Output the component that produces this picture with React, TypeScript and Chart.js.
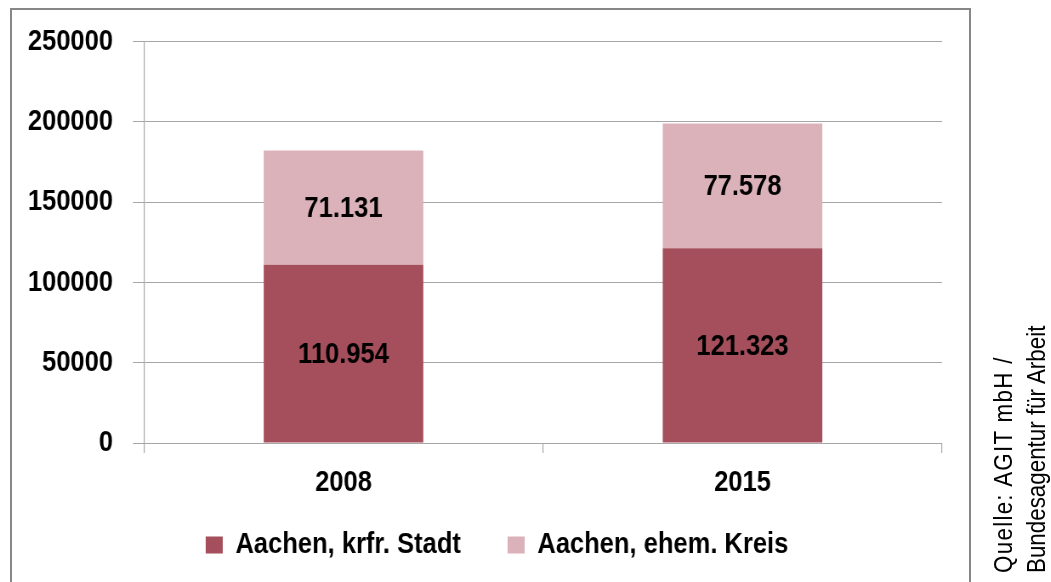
import React, { useEffect, useRef } from "react";
import { Chart, registerables } from "chart.js";

Chart.register(...registerables);

const categories = ["2008", "2015"];
const stadtValues = [110954, 121323];
const kreisValues = [71131, 77578];
const seriesNames = ["Aachen, krfr. Stadt", "Aachen, ehem. Kreis"];
const yTicks = [0, 50000, 100000, 150000, 200000, 250000];
const sourceLines = ["Quelle: AGIT mbH /", "Bundesagentur für Arbeit"];

const FONT = "'Liberation Sans', Arial, sans-serif";
const DARK = "#A54F5D";
const LIGHT = "#DBB2BA";
const GRID = "#A6A6A6";

// horizontal compression to mimic a narrow typeface
const DISPLAY_W = 988;
const INTERNAL_W = 1162;
const S = DISPLAY_W / INTERNAL_W;
const H = 582;

const fmt = (v: number) => String(v).replace(/\B(?=(\d{3})+(?!\d))/g, ".");

const dataLabelPlugin = {
  id: "dataLabels",
  afterDatasetsDraw(chart: any) {
    const ctx = chart.ctx;
    ctx.save();
    ctx.font = `bold 30px ${FONT}`;
    ctx.fillStyle = "#000";
    ctx.textAlign = "center";
    ctx.textBaseline = "middle";
    chart.data.datasets.forEach((ds: any, di: number) => {
      const meta = chart.getDatasetMeta(di);
      meta.data.forEach((el: any, i: number) => {
        const { x, y, base } = el.getProps(["x", "y", "base"], true);
        ctx.fillText(fmt(ds.data[i]), x, (y + base) / 2 + 1);
      });
    });
    ctx.restore();
  },
};

const legendPlacePlugin = {
  id: "legendPlace",
  afterLayout(chart: any) {
    const l = chart.legend;
    if (!l) return;
    const target = 497 / S;
    const dx = target - (l.left + l.right) / 2;
    l.left += dx;
    l.right += dx;
    const h = l.bottom - l.top;
    l.top = 475;
    l.bottom = 475 + h;
  },
};

export default function App() {
  const ref = useRef<HTMLCanvasElement | null>(null);
  useEffect(() => {
    if (!ref.current) return;
    const chart = new Chart(ref.current, {
      type: "bar",
      data: {
        labels: categories,
        datasets: [
          { label: seriesNames[0], data: stadtValues, backgroundColor: DARK, borderWidth: 0 },
          { label: seriesNames[1], data: kreisValues, backgroundColor: LIGHT, borderWidth: 0 },
        ],
      },
      options: {
        responsive: false,
        animation: false,
        devicePixelRatio: 1,
        layout: { padding: { top: 40, right: 46 / S, bottom: -9, left: 0 } },
        datasets: { bar: { categoryPercentage: 1, barPercentage: 0.4 } },
        scales: {
          x: {
            stacked: true,
            grid: { drawOnChartArea: false, drawTicks: true, tickLength: 10, color: GRID, lineWidth: 1 / S, offset: true },
            border: { color: GRID, width: 1 },
            ticks: { color: "#000", font: { family: FONT, size: 30, weight: "bold" }, padding: 12 },
            afterFit: (s: any) => { s.height = 53; },
          },
          y: {
            stacked: true,
            min: 0,
            max: 250000,
            afterBuildTicks: (s: any) => { s.ticks = yTicks.map((v) => ({ value: v })); },
            grid: { color: GRID, tickLength: 11 / S, drawTicks: true },
            border: { color: GRID, width: 1 / S },
            ticks: {
              color: "#000",
              font: { family: FONT, size: 30, weight: "bold" },
              padding: 20 / S,
              callback: (v: any) => String(v),
            },
            afterFit: (s: any) => { s.width = 144 / S; },
          },
        },
        plugins: {
          legend: {
            position: "bottom",
            labels: {
              boxWidth: 17 / S,
              boxHeight: 17,
              padding: 55,
              color: "#000",
              font: { family: FONT, size: 30, weight: "bold" },
            },
          },
          tooltip: { enabled: false },
        },
      },
      plugins: [dataLabelPlugin, legendPlacePlugin],
    });
    return () => chart.destroy();
  }, []);

  return (
    <div style={{ position: "fixed", left: 0, top: 0, width: 1051, height: H, overflow: "hidden", background: "#fff" }}>
      <div style={{ position: "absolute", left: 10, top: 8, width: 961, height: 600, boxSizing: "border-box", border: "2px solid #878787" }} />
      <canvas
        ref={ref}
        width={INTERNAL_W}
        height={H}
        style={{ position: "absolute", left: 0, top: 0, width: DISPLAY_W, height: H }}
      />
      <div
        style={{
          position: "absolute",
          left: 987,
          top: 573,
          width: 320,
          transformOrigin: "0 0",
          transform: "rotate(-90deg) scaleX(0.86)",
          fontFamily: FONT,
          fontSize: 26,
          lineHeight: "33px",
          color: "#000",
          whiteSpace: "nowrap",
        }}
      >
        {sourceLines.map((l, i) => (
          <div key={i} style={{ letterSpacing: i === 0 ? "1.5px" : "0px" }}>{l}</div>
        ))}
      </div>
    </div>
  );
}
